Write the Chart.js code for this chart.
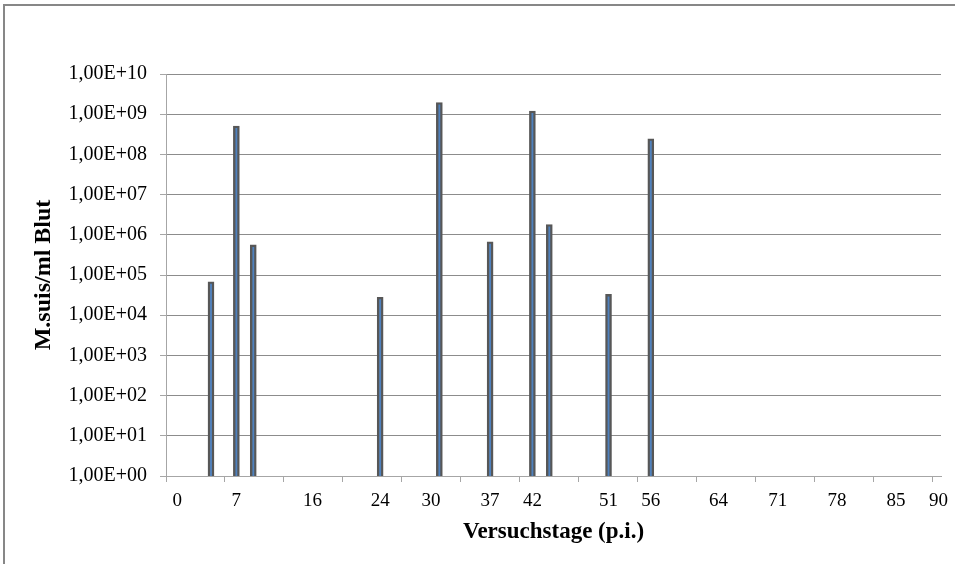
<!DOCTYPE html>
<html>
<head>
<meta charset="utf-8">
<script src="https://cdn.jsdelivr.net/npm/chart.js@4.4.1/dist/chart.umd.min.js"></script>
<style>
    html, body { margin: 0; padding: 0; background: #fff; overflow: hidden; }
    #wrap { position: relative; width: 955px; height: 564px; overflow: hidden; }
    #frame { position: absolute; left: 3px; top: 4px; width: 1000px; height: 1000px; border: 2px solid #878787; }
    canvas { position: absolute; left: 0; top: 0; }
</style>
</head>
<body>
<div id="wrap">
    <div id="frame"></div>
    <canvas id="chart" width="955" height="564"></canvas>
</div>
<script>
const days = [4, 7, 9, 24, 31, 37, 42, 44, 51, 56];
const counts = [6.8e4, 5.1e8, 5.6e5, 2.8e4, 1.95e9, 6.7e5, 1.2e9, 1.8e6, 3.3e4, 2.45e8];

const xTickDays = [0, 7, 16, 24, 30, 37, 42, 51, 56, 64, 71, 78, 85, 90];
const yTickValues = [1, 1e1, 1e2, 1e3, 1e4, 1e5, 1e6, 1e7, 1e8, 1e9, 1e10];

const serif = 'Liberation Serif';
const xMin = -1.32;
const xMax = 90.31;
const lastMark = 89.27;
const markCount = 14;

function sciLabel(v) {
    const exp = Math.round(Math.log10(v));
    return '1,00E+' + String(exp).padStart(2, '0');
}

new Chart(document.getElementById('chart'), {
    type: 'bar',
    data: {
        datasets: [{
            data: days.map((d, i) => ({ x: d, y: counts[i] })),
            xAxisID: 'x',
            yAxisID: 'y',
            backgroundColor: '#4F81BD',
            borderColor: '#575757',
            borderWidth: 2.4,
            barThickness: 6
        }]
    },
    options: {
        responsive: false,
        animation: false,
        layout: { padding: { left: 0, top: 74, right: 14, bottom: 0 } },
        plugins: { legend: { display: false }, tooltip: { enabled: false } },
        scales: {
            x: {
                type: 'linear', min: xMin, max: xMax, offset: false, position: 'bottom', weight: 0,
                border: { display: true, color: '#A6A6A6' },
                grid: { drawOnChartArea: false, drawTicks: true, tickLength: 6, tickColor: '#A6A6A6', offset: false },
                ticks: { autoSkip: false, maxRotation: 0, padding: 0, callback: () => '' },
                afterBuildTicks: s => {
                    // evenly spaced tick marks, independent of the day labels
                    const step = (lastMark - xMin) / (markCount - 1);
                    s.ticks = [];
                    for (let k = 0; k < markCount; k++) s.ticks.push({ value: xMin + k * step });
                },
                afterFit: s => { s.height = 7; }
            },
            x2: {
                type: 'linear', min: xMin, max: xMax, offset: false, position: 'bottom', weight: 1,
                border: { display: false },
                grid: { display: false, drawTicks: false, offset: false },
                ticks: {
                    autoSkip: false, maxRotation: 0, padding: 7, color: '#000',
                    font: { family: serif, size: 19 },
                    callback: v => String(v)
                },
                afterBuildTicks: s => { s.ticks = xTickDays.map(v => ({ value: v })); },
                title: {
                    display: true, text: 'Versuchstage (p.i.)', color: '#000',
                    font: { family: serif, size: 23, weight: 'bold' },
                    padding: { top: 0, bottom: 18 }
                },
                afterFit: s => { s.height = 81; }
            },
            y: {
                type: 'logarithmic', min: 1, max: 1e10, position: 'left',
                border: { display: true, color: '#A6A6A6' },
                grid: { color: '#8C8C8C', tickColor: '#A6A6A6', tickLength: 6, drawTicks: true },
                ticks: {
                    autoSkip: false, padding: 13, color: '#000',
                    font: { family: serif, size: 20 },
                    callback: v => sciLabel(v)
                },
                afterBuildTicks: s => { s.ticks = yTickValues.map(v => ({ value: v })); },
                title: {
                    display: true, text: 'M.suis/ml Blut', color: '#000',
                    font: { family: serif, size: 24, weight: 'bold' },
                    padding: { top: 29, bottom: 0 }
                },
                afterFit: s => { s.width = 166; }
            }
        }
    }
});
</script>
</body>
</html>
